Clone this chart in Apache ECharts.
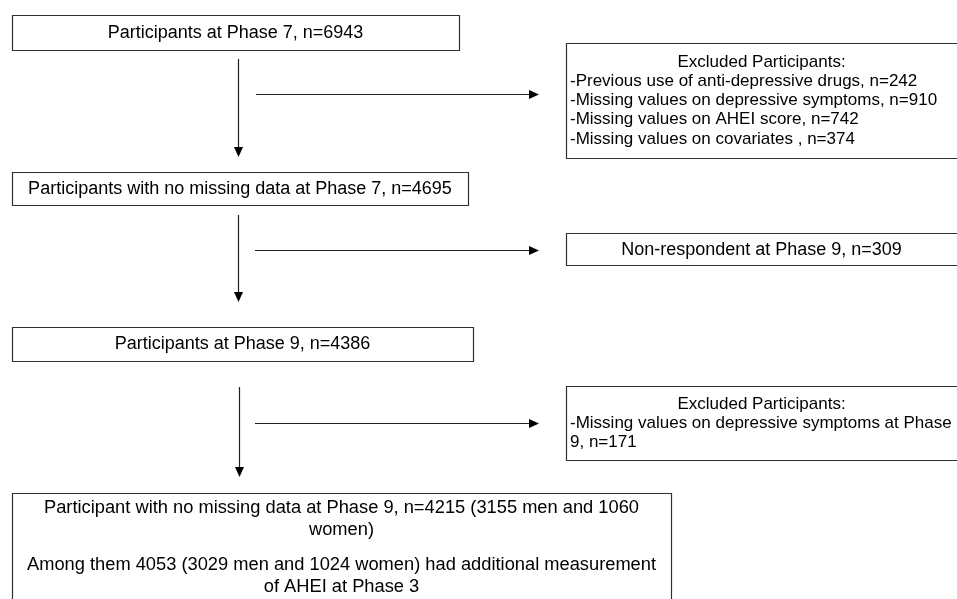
<!DOCTYPE html>
<html>
<head>
<meta charset="utf-8">
<script src="https://cdn.jsdelivr.net/npm/echarts@6/dist/echarts.min.js"></script>
<style>html,body{margin:0;padding:0;background:#fff}#chart{width:957px;height:599px}</style>
</head>
<body>
<div id="chart"></div>
<script>
// ---- Data (texts of the flow chart) ----
const mainSteps = [
  'Participants at Phase 7, n=6943',
  'Participants with no missing data at Phase 7, n=4695',
  'Participants at Phase 9, n=4386'
];
const exclusionTitle = 'Excluded Participants:';
const exclusionPhase7 = [
  '-Previous use of anti-depressive drugs, n=242',
  '-Missing values on depressive symptoms, n=910',
  '-Missing values on AHEI score, n=742',
  '-Missing values on covariates , n=374'
];
const nonRespondent = ['Non-respondent at Phase 9, n=309'];
const exclusionPhase9 = [
  '-Missing values on depressive symptoms at Phase',
  '9, n=171'
];
const finalStep = [
  'Participant with no missing data at Phase 9, n=4215 (3155 men and 1060',
  'women)',
  'Among them 4053 (3029 men and 1024 women) had additional measurement',
  'of AHEI at Phase 3'
];

// ---- Layout (positions in chart units = pixels) ----
const W = 957, H = 599;
const FONT = '"Liberation Sans", Arial, sans-serif';
const boxes = [
  { rect: [12, 15, 459, 50], size: 18, lines: [{ t: mainSteps[0], y: 33, align: 'center' }] },
  { rect: [12, 172, 468, 205], size: 18, lines: [{ t: mainSteps[1], y: 189, align: 'center' }] },
  { rect: [12, 327, 473, 361], size: 18, lines: [{ t: mainSteps[2], y: 344, align: 'center' }] },
  { rect: [566, 43, 960, 158], size: 17, lines: [
      { t: exclusionTitle, y: 62, align: 'center' },
      { t: exclusionPhase7[0], y: 81, align: 'left' },
      { t: exclusionPhase7[1], y: 100.5, align: 'left' },
      { t: exclusionPhase7[2], y: 119.5, align: 'left' },
      { t: exclusionPhase7[3], y: 139, align: 'left' }
  ] },
  { rect: [566, 233, 960, 265], size: 18, lines: [{ t: nonRespondent[0], y: 250, align: 'center' }] },
  { rect: [566, 386, 960, 460], size: 17, lines: [
      { t: exclusionTitle, y: 404, align: 'center' },
      { t: exclusionPhase9[0], y: 423, align: 'left' },
      { t: exclusionPhase9[1], y: 442, align: 'left' }
  ] },
  { rect: [12, 493, 671, 605], size: 18.3, lines: [
      { t: finalStep[0], y: 508, align: 'center' },
      { t: finalStep[1], y: 530, align: 'center' },
      { t: finalStep[2], y: 565, align: 'center' },
      { t: finalStep[3], y: 587, align: 'center' }
  ] }
];
// arrows: [x0, y0, x1, y1] (head at x1,y1)
const arrows = [
  [238, 59, 238, 157],
  [256, 94, 539, 94],
  [238, 215, 238, 302],
  [255, 250, 539, 250],
  [239, 387, 239, 477],
  [255, 423, 539, 423]
];

const chart = echarts.init(document.getElementById('chart'), null, { renderer: 'canvas' });

function crisp(v) { return Math.round(v) + 0.5; }

function renderBox(params, api) {
  const b = boxes[api.value(0)];
  const p0 = api.coord([b.rect[0], b.rect[1]]);
  const p1 = api.coord([b.rect[2], b.rect[3]]);
  const x0 = crisp(p0[0]), y0 = crisp(p0[1]);
  const children = [{
    type: 'rect',
    shape: { x: x0, y: y0, width: Math.round(p1[0] - p0[0]), height: Math.round(p1[1] - p0[1]) },
    style: { fill: '#ffffff', stroke: '#303030', lineWidth: 1.2 }
  }];
  const boxW = b.rect[2] > W ? (W - b.rect[0]) : (b.rect[2] - b.rect[0]);
  b.lines.forEach(function (ln) {
    const c = api.coord([ln.align === 'center' ? b.rect[0] + boxW / 2 : b.rect[0] + 4, ln.y]);
    children.push({
      type: 'text',
      style: {
        text: ln.t, x: c[0], y: c[1],
        fill: '#000', font: b.size + 'px ' + FONT,
        textAlign: ln.align, textVerticalAlign: 'middle'
      }
    });
  });
  return { type: 'group', children: children };
}

function renderArrow(params, api) {
  const a = [api.value(0), api.value(1), api.value(2), api.value(3)];
  const p0 = api.coord([a[0], a[1]]);
  const p1 = api.coord([a[2], a[3]]);
  const vertical = Math.abs(p1[0] - p0[0]) < 1;
  const L = 10, hw = 4.5;
  let line, head;
  if (vertical) {
    const x = crisp(p0[0]);
    line = { x1: x, y1: p0[1], x2: x, y2: p1[1] - L + 1 };
    head = [[x - hw, p1[1] - L], [x + hw, p1[1] - L], [x, p1[1]]];
  } else {
    const y = crisp(p0[1]);
    line = { x1: p0[0], y1: y, x2: p1[0] - L + 1, y2: y };
    head = [[p1[0] - L, y - hw], [p1[0] - L, y + hw], [p1[0], y]];
  }
  return {
    type: 'group',
    children: [
      { type: 'line', shape: line, style: { stroke: '#202020', lineWidth: 1.2 } },
      { type: 'polygon', shape: { points: head }, style: { fill: '#000' } }
    ]
  };
}

chart.setOption({
  animation: false,
  backgroundColor: '#ffffff',
  grid: { left: 0, right: 0, top: 0, bottom: 0 },
  xAxis: { type: 'value', min: 0, max: W, show: false },
  yAxis: { type: 'value', min: 0, max: H, inverse: true, show: false },
  series: [
    {
      type: 'custom', coordinateSystem: 'cartesian2d', clip: false, silent: true,
      renderItem: renderBox,
      data: boxes.map(function (b, i) { return [i]; })
    },
    {
      type: 'custom', coordinateSystem: 'cartesian2d', clip: false, silent: true,
      renderItem: renderArrow,
      data: arrows
    }
  ]
});
</script>
</body>
</html>
